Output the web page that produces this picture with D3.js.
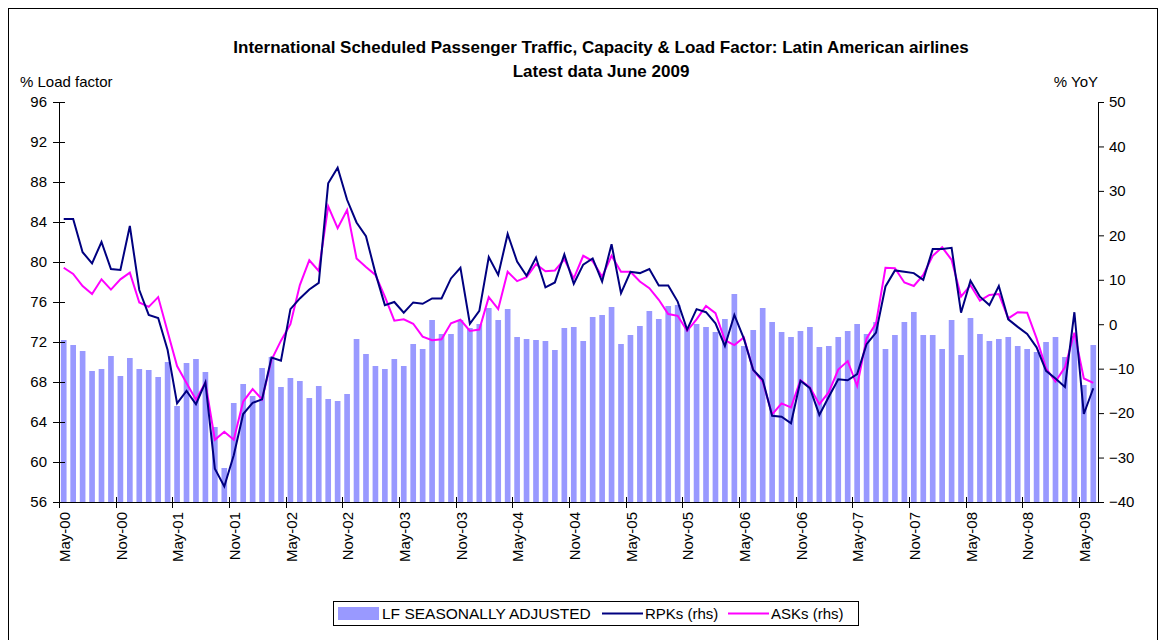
<!DOCTYPE html>
<html>
<head>
<meta charset="utf-8">
<script src="https://cdn.jsdelivr.net/npm/d3@7"></script>
<style>
  body { margin: 0; background: #fff; }
  svg text { font-family: Arial, "Liberation Sans", sans-serif; fill: #000; }
</style>
</head>
<body>
<div id="chart"></div>
<script>
// monthly, May 2000 .. June 2009
var months = d3.timeMonth.range(new Date(2000, 4, 1), new Date(2009, 6, 1));
var fmt = d3.timeFormat('%b-%y');

// load factor, seasonally adjusted (lhs)
var lf = [72.2, 71.7, 71.1, 69.1, 69.3, 70.6, 68.6, 70.4, 69.3, 69.2, 68.5, 70.0,
  65.6, 69.9, 70.3, 69.0, 63.5, 59.4, 65.9, 67.8, 66.6, 69.4, 70.5, 67.5,
  68.4, 68.1, 66.4, 67.6, 66.3, 66.1, 66.8, 72.3, 70.8, 69.6, 69.3, 70.3,
  69.6, 71.8, 71.3, 74.2, 72.8, 72.8, 74.2, 73.4, 73.8, 75.4, 74.2, 75.3,
  72.5, 72.3, 72.2, 72.1, 71.2, 73.4, 73.5, 72.1, 74.5, 74.7, 75.5, 71.8,
  72.7, 73.6, 75.1, 74.3, 75.6, 75.7, 73.4, 73.8, 73.5, 73.0, 74.3, 76.8,
  71.6, 73.2, 75.4, 74.0, 73.0, 72.5, 73.1, 73.5, 71.5, 71.6, 72.5, 73.1,
  73.8, 72.8, 74.0, 71.3, 72.7, 74.0, 75.0, 72.7, 72.7, 71.3, 74.2, 70.7,
  74.4, 72.8, 72.1, 72.3, 72.5, 71.6, 71.3, 71.0, 72.0, 72.5, 70.5, 72.6,
  67.7, 71.7];

// RPKs % yoy (rhs)
var rpk = [23.7, 23.7, 16.2, 13.7, 18.5, 12.4, 12.2, 22.1, 7.7, 2.1, 1.4, -5.8,
  -17.8, -15.0, -18.0, -13.1, -32.5, -36.5, -29.5, -20.2, -17.7, -16.9, -7.5, -8.2,
  3.4, 5.8, 7.8, 9.3, 31.7, 35.2, 28.0, 22.9, 19.8, 11.5, 4.3, 5.0,
  2.6, 4.9, 4.6, 5.8, 5.8, 10.3, 12.7, 0.1, 3.0, 15.1, 11.1, 20.3,
  14.1, 10.9, 15.0, 8.3, 9.4, 15.7, 9.1, 13.4, 14.8, 9.6, 18.0, 7.0,
  11.8, 11.5, 12.4, 8.7, 8.7, 5.1, -1.2, 3.4, 2.7, 0.2, -4.9, 2.1,
  -3.2, -10.3, -12.5, -20.6, -20.8, -22.3, -12.7, -14.4, -20.4, -16.3, -12.4, -12.6,
  -11.2, -4.5, -1.9, 8.5, 12.1, 11.8, 11.5, 10.0, 16.9, 16.9, 17.2, 2.6,
  9.8, 6.2, 4.3, 8.6, 1.1, -0.6, -2.2, -5.2, -10.5, -12.2, -14.1, 2.7,
  -20.2, -14.4];

// ASKs % yoy (rhs)
var ask = [12.7, 11.3, 8.6, 6.8, 10.1, 7.8, 10.1, 11.6, 4.9, 3.9, 6.1, -1.7,
  -9.4, -13.2, -17.0, -13.1, -26.0, -24.2, -26.0, -17.4, -14.6, -16.9, -8.0, -3.7,
  0.0, 8.8, 14.4, 12.0, 26.5, 21.6, 25.7, 14.8, 12.9, 11.1, 6.2, 0.8,
  1.1, 0.1, -2.8, -3.6, -3.4, 0.2, 1.0, -1.5, -1.2, 6.1, 3.4, 11.8,
  9.7, 10.6, 13.5, 11.9, 12.1, 14.6, 10.3, 15.4, 14.2, 10.7, 15.4, 11.8,
  11.8, 9.6, 8.1, 5.5, 2.3, 1.9, -1.5, 1.1, 4.1, 2.5, -3.6, -4.7,
  -3.0, -10.3, -12.9, -20.3, -17.8, -18.7, -12.6, -14.2, -18.0, -15.3, -10.2, -8.3,
  -13.9, -3.2, 0.2, 12.7, 12.6, 9.4, 8.6, 11.1, 15.4, 17.3, 14.5, 6.2,
  8.8, 5.3, 6.6, 6.8, 1.3, 2.7, 2.6, -3.2, -9.9, -12.9, -9.7, -1.9,
  -12.2, -13.2];

var leftTicks = [56, 60, 64, 68, 72, 76, 80, 84, 88, 92, 96];
var rightTicks = [-40, -30, -20, -10, 0, 10, 20, 30, 40, 50];

var width = 1162, height = 640;
var plot = {left: 59, right: 1098, top: 102, bottom: 502};
var fs = '15px';

var svg = d3.select('#chart').append('svg')
  .attr('width', width)
  .attr('height', height);

// outer frame
svg.append('rect')
  .attr('x', 8.5).attr('y', 8.5)
  .attr('width', 1149).attr('height', 660)
  .attr('fill', 'none').attr('stroke', '#000');

var x = d3.scaleBand()
  .domain(d3.range(months.length))
  .range([plot.left, plot.right])
  .paddingInner(0.4)
  .paddingOuter(0.2);

var yL = d3.scaleLinear().domain([56, 96]).range([plot.bottom, plot.top]);
var yR = d3.scaleLinear().domain([-40, 50]).range([plot.bottom, plot.top]);

// bars
svg.append('g').selectAll('rect')
  .data(lf)
  .enter()
  .append('rect')
  .attr('x', function(d, i) { return x(i); })
  .attr('width', x.bandwidth())
  .attr('y', function(d) { return yL(d); })
  .attr('height', function(d) { return yL(56) - yL(d); })
  .attr('fill', '#9999ff');

var cx = function(d, i) { return x(i) + x.bandwidth() / 2; };

var lineR = d3.line()
  .x(cx)
  .y(function(d) { return yR(d); });

svg.append('path')
  .datum(ask)
  .attr('fill', 'none')
  .attr('stroke', '#ff00ff')
  .attr('stroke-width', 2)
  .attr('d', lineR);

svg.append('path')
  .datum(rpk)
  .attr('fill', 'none')
  .attr('stroke', '#000080')
  .attr('stroke-width', 2)
  .attr('d', lineR);

// left axis, cross ticks
var gL = svg.append('g').attr('transform', 'translate(' + plot.left + ',0)')
  .call(d3.axisLeft(yL).tickValues(leftTicks).tickSize(6).tickPadding(6));
gL.selectAll('.tick line').attr('x2', 6).attr('x1', -6);

// right axis
svg.append('g').attr('transform', 'translate(' + plot.right + ',0)')
  .call(d3.axisRight(yR).tickValues(rightTicks).tickSize(6).tickPadding(5));

// bottom axis: ticks between categories every 6 months
var step = x.step();
var boundaries = d3.range(0, months.length + 1, 6);
var gB = svg.append('g');
gB.append('line')
  .attr('x1', plot.left).attr('x2', plot.right)
  .attr('y1', plot.bottom + 0.5).attr('y2', plot.bottom + 0.5)
  .attr('stroke', '#000');
gB.selectAll('line.tk')
  .data(boundaries)
  .enter()
  .append('line')
  .attr('class', 'tk')
  .attr('x1', function(d) { return Math.round(x(d) - step * x.paddingInner() / 2) + 0.5; })
  .attr('x2', function(d) { return Math.round(x(d) - step * x.paddingInner() / 2) + 0.5; })
  .attr('y1', plot.bottom - 5).attr('y2', plot.bottom + 6)
  .attr('stroke', '#000');
gB.selectAll('text')
  .data(boundaries.filter(function(d) { return d < months.length; }))
  .enter()
  .append('text')
  .attr('transform', function(d) {
    return 'translate(' + (cx(null, d) + 1) + ',' + (plot.bottom + 10) + ') rotate(-90)';
  })
  .attr('text-anchor', 'end')
  .attr('dy', '0.35em')
  .style('font-size', fs)
  .text(function(d) { return fmt(months[d]); });

svg.selectAll('.tick text').style('font-size', fs);
svg.selectAll('.domain').attr('stroke', '#000');

// titles
svg.append('text')
  .attr('x', 601).attr('y', 53)
  .attr('text-anchor', 'middle')
  .style('font-size', '17px').style('font-weight', 'bold')
  .text('International Scheduled Passenger Traffic, Capacity & Load Factor: Latin American airlines');
svg.append('text')
  .attr('x', 601).attr('y', 77)
  .attr('text-anchor', 'middle')
  .style('font-size', '17px').style('font-weight', 'bold')
  .text('Latest data June 2009');
svg.append('text')
  .attr('x', 20).attr('y', 87)
  .style('font-size', fs)
  .text('% Load factor');
svg.append('text')
  .attr('x', 1098).attr('y', 87)
  .attr('text-anchor', 'end')
  .style('font-size', fs)
  .text('% YoY');

// legend
var lg = svg.append('g').attr('transform', 'translate(333,601)');
lg.append('rect')
  .attr('x', 0.5).attr('y', 0.5).attr('width', 525).attr('height', 24)
  .attr('fill', '#fff').attr('stroke', '#000');
lg.append('rect')
  .attr('x', 5).attr('y', 6).attr('width', 41).attr('height', 13)
  .attr('fill', '#9999ff');
lg.append('text').attr('x', 49).attr('y', 18).style('font-size', '15.5px')
  .text('LF SEASONALLY ADJUSTED');
lg.append('line').attr('x1', 269).attr('x2', 310).attr('y1', 12.5).attr('y2', 12.5)
  .attr('stroke', '#000080').attr('stroke-width', 2);
lg.append('text').attr('x', 312).attr('y', 18).style('font-size', '15px')
  .text('RPKs (rhs)');
lg.append('line').attr('x1', 395).attr('x2', 436).attr('y1', 12.5).attr('y2', 12.5)
  .attr('stroke', '#ff00ff').attr('stroke-width', 2);
lg.append('text').attr('x', 438).attr('y', 18).style('font-size', '15px')
  .text('ASKs (rhs)');
</script>
</body>
</html>
